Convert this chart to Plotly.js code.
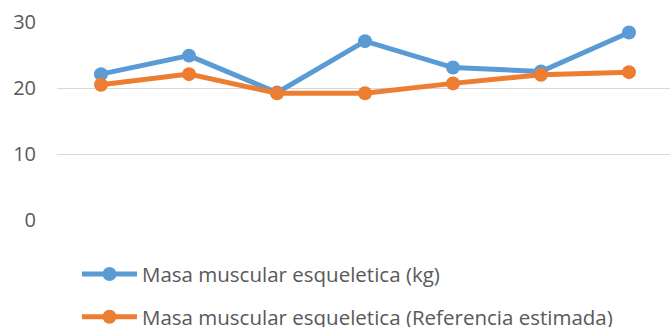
<!DOCTYPE html>
<html>
<head>
<meta charset="utf-8">
<script src="https://cdn.plot.ly/plotly-3.0.1.min.js"></script>
<style>
  html, body { margin: 0; padding: 0; background: #ffffff; }
  #chart { width: 670px; height: 327px; }
</style>
</head>
<body>
<div id="chart"></div>
<script>
// Seven measurement sessions (unlabelled on the category axis)
const sessions = [1, 2, 3, 4, 5, 6, 7];

// Skeletal muscle mass, measured (kg)
const masaMedida = [22.1, 24.9, 19.3, 27.1, 23.1, 22.5, 28.4];

// Skeletal muscle mass, estimated reference
const masaReferencia = [20.5, 22.1, 19.2, 19.2, 20.7, 22.0, 22.4];

const seriesNames = [
  'Masa muscular esqueletica (kg)',
  'Masa muscular esqueletica (Referencia estimada)'
];

const yTicks = [0, 10, 20, 30];

const fontFamily = '"Open Sans", Lato, sans-serif';

const traces = [
  {
    x: sessions, y: masaMedida, name: seriesNames[0],
    type: 'scatter', mode: 'lines+markers', legendgroup: 'a',
    line: { color: '#5B9BD5', width: 5 },
    marker: { color: '#5B9BD5', size: 14 }
  },
  {
    x: sessions, y: masaReferencia, name: seriesNames[1],
    type: 'scatter', mode: 'lines+markers', legendgroup: 'b',
    line: { color: '#ED7D31', width: 5 },
    marker: { color: '#ED7D31', size: 14 }
  }
];

const layout = {
  width: 670, height: 327,
  margin: { l: 57, r: 0, t: 22, b: 107, autoexpand: false },
  paper_bgcolor: '#ffffff', plot_bgcolor: '#ffffff',
  font: { family: fontFamily, color: '#595959', size: 20 },
  showlegend: true,
  xaxis: {
    type: 'linear',
    range: [0.5, 7.466],
    showticklabels: false, showgrid: false, zeroline: false,
    ticks: '', fixedrange: true
  },
  yaxis: {
    range: [0, 30],
    tickvals: yTicks, ticktext: yTicks.map(String),
    showgrid: true, gridcolor: '#D9D9D9', gridwidth: 1,
    zeroline: false, showline: false, ticks: '',
    ticklabelstandoff: 20,
    tickfont: { family: fontFamily, size: 20, color: '#595959' },
    fixedrange: true
  },
  legend: {
    orientation: 'v',
    x: 0.0326, xref: 'paper', xanchor: 'left',
    y: 0.2225, yref: 'container', yanchor: 'top',
    traceorder: 'grouped',
    tracegroupgap: 13,
    itemwidth: 55,
    font: { family: fontFamily, size: 20.5, color: '#595959' },
    bgcolor: 'rgba(0,0,0,0)'
  }
};

Plotly.newPlot('chart', traces, layout, { displayModeBar: false, staticPlot: true });
</script>
</body>
</html>
